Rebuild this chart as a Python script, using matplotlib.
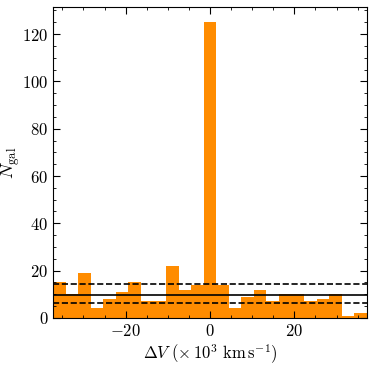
import numpy as np
import matplotlib
matplotlib.use("Agg")
import matplotlib.pyplot as plt
from matplotlib.ticker import MultipleLocator, FuncFormatter

# histogram counts per velocity bin (25 bins)
counts = [15, 10, 19, 4, 8, 11, 15, 7, 7, 22, 12, 14, 125,
          14, 4, 9, 12, 7, 10, 10, 7, 8, 10, 1, 2]
v_lo, v_hi = -37.2, 37.2

# reference levels
mean_level = 9.6
upper_level = 14.4
lower_level = 6.1

plt.rcParams['mathtext.fontset'] = 'cm'
plt.rcParams['font.family'] = 'serif'
plt.rcParams['font.serif'] = ['DejaVu Serif']

edges = np.linspace(v_lo, v_hi, len(counts) + 1)
centers = 0.5 * (edges[:-1] + edges[1:])

fig = plt.figure(figsize=(3.74, 3.65), dpi=100)
ax = fig.add_axes([0.142, 0.129, 0.839, 0.852])

ax.hist(centers, bins=edges, weights=counts, color='darkorange')
ax.axhline(mean_level, color='k', lw=1.2)
ax.axhline(upper_level, color='k', lw=1.2, ls='--')
ax.axhline(lower_level, color='k', lw=1.2, ls='--')

ax.set_xlim(v_lo, v_hi)
ax.set_ylim(0, 131.5)
math_fmt = FuncFormatter(lambda v, pos: r'$%d$' % round(v))
ax.xaxis.set_major_locator(MultipleLocator(20))
ax.xaxis.set_minor_locator(MultipleLocator(5))
ax.yaxis.set_major_locator(MultipleLocator(20))
ax.yaxis.set_minor_locator(MultipleLocator(5))
ax.xaxis.set_major_formatter(math_fmt)
ax.yaxis.set_major_formatter(math_fmt)
ax.tick_params(which='both', direction='in', top=True, right=True, labelsize=12)
ax.tick_params(which='major', length=5)
ax.tick_params(which='minor', length=2.5)

ax.set_xlabel(r'$\Delta V\ (\times\,10^3\ \mathrm{km\,s^{-1}})$', fontsize=12, labelpad=2)
ax.set_ylabel(r'$N_{\rm gal}$', fontsize=13)
ax.yaxis.set_label_coords(-0.1, 0.5)

fig.savefig('out.png', dpi=100)
